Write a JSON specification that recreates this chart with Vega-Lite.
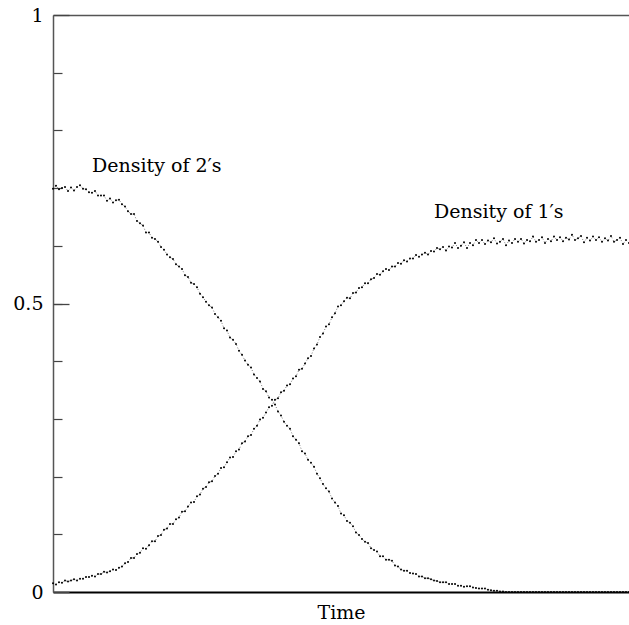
{
"$schema": "https://vega.github.io/schema/vega-lite/v6.json",
"width": 576, "height": 577,
"autosize": {"type": "none"},
"padding": {"left": 53, "top": 15, "right": 0, "bottom": 33},
"background": "white",
"config": {"view": {"stroke": null}, "font": "DejaVu Serif", "axis": {"grid": false}},
"resolve": {"axis": {"x": "independent", "y": "independent"}},
"data": {"values": [
{"t":0,"ones":0.015,"twos":0.699},{"t":1,"ones":0.013,"twos":0.704},{"t":2,"ones":0.017,"twos":0.698},{"t":3,"ones":0.016,"twos":0.700},{"t":4,"ones":0.020,"twos":0.702},{"t":5,"ones":0.018,"twos":0.695},{"t":6,"ones":0.020,"twos":0.701},{"t":7,"ones":0.022,"twos":0.696},{"t":8,"ones":0.020,"twos":0.702},{"t":9,"ones":0.023,"twos":0.705},
{"t":10,"ones":0.023,"twos":0.699},{"t":11,"ones":0.026,"twos":0.698},{"t":12,"ones":0.026,"twos":0.693},{"t":13,"ones":0.028,"twos":0.692},{"t":14,"ones":0.027,"twos":0.695},{"t":15,"ones":0.031,"twos":0.687},{"t":16,"ones":0.031,"twos":0.687},{"t":17,"ones":0.035,"twos":0.687},{"t":18,"ones":0.034,"twos":0.678},{"t":19,"ones":0.036,"twos":0.682},
{"t":20,"ones":0.039,"twos":0.675},{"t":21,"ones":0.038,"twos":0.679},{"t":22,"ones":0.042,"twos":0.680},{"t":23,"ones":0.044,"twos":0.672},{"t":24,"ones":0.050,"twos":0.668},{"t":25,"ones":0.052,"twos":0.660},{"t":26,"ones":0.059,"twos":0.655},{"t":27,"ones":0.059,"twos":0.655},{"t":28,"ones":0.066,"twos":0.643},{"t":29,"ones":0.068,"twos":0.639},
{"t":30,"ones":0.076,"twos":0.635},{"t":31,"ones":0.075,"twos":0.623},{"t":32,"ones":0.081,"twos":0.623},{"t":33,"ones":0.088,"twos":0.614},{"t":34,"ones":0.088,"twos":0.612},{"t":35,"ones":0.097,"twos":0.607},{"t":36,"ones":0.099,"twos":0.598},{"t":37,"ones":0.108,"twos":0.593},{"t":38,"ones":0.110,"twos":0.585},{"t":39,"ones":0.118,"twos":0.580},
{"t":40,"ones":0.118,"twos":0.577},{"t":41,"ones":0.126,"twos":0.568},{"t":42,"ones":0.129,"twos":0.564},{"t":43,"ones":0.139,"twos":0.560},{"t":44,"ones":0.140,"twos":0.549},{"t":45,"ones":0.148,"twos":0.546},{"t":46,"ones":0.155,"twos":0.536},{"t":47,"ones":0.156,"twos":0.534},{"t":48,"ones":0.166,"twos":0.528},{"t":49,"ones":0.169,"twos":0.517},
{"t":50,"ones":0.179,"twos":0.511},{"t":51,"ones":0.182,"twos":0.503},{"t":52,"ones":0.190,"twos":0.497},{"t":53,"ones":0.192,"twos":0.493},{"t":54,"ones":0.201,"twos":0.482},{"t":55,"ones":0.205,"twos":0.476},{"t":56,"ones":0.215,"twos":0.470},{"t":57,"ones":0.216,"twos":0.457},{"t":58,"ones":0.225,"twos":0.453},{"t":59,"ones":0.233,"twos":0.441},
{"t":60,"ones":0.234,"twos":0.437},{"t":61,"ones":0.244,"twos":0.430},{"t":62,"ones":0.247,"twos":0.418},{"t":63,"ones":0.258,"twos":0.411},{"t":64,"ones":0.261,"twos":0.401},{"t":65,"ones":0.270,"twos":0.394},{"t":66,"ones":0.272,"twos":0.389},{"t":67,"ones":0.283,"twos":0.377},{"t":68,"ones":0.288,"twos":0.371},{"t":69,"ones":0.299,"twos":0.365},
{"t":70,"ones":0.302,"twos":0.352},{"t":71,"ones":0.311,"twos":0.348},{"t":72,"ones":0.320,"twos":0.337},{"t":73,"ones":0.323,"twos":0.333},{"t":74,"ones":0.333,"twos":0.325},{"t":75,"ones":0.336,"twos":0.313},{"t":76,"ones":0.346,"twos":0.306},{"t":77,"ones":0.349,"twos":0.295},{"t":78,"ones":0.358,"twos":0.288},{"t":79,"ones":0.360,"twos":0.283},
{"t":80,"ones":0.370,"twos":0.270},{"t":81,"ones":0.374,"twos":0.264},{"t":82,"ones":0.385,"twos":0.258},{"t":83,"ones":0.387,"twos":0.244},{"t":84,"ones":0.396,"twos":0.240},{"t":85,"ones":0.405,"twos":0.229},{"t":86,"ones":0.409,"twos":0.224},{"t":87,"ones":0.422,"twos":0.217},{"t":88,"ones":0.429,"twos":0.205},{"t":89,"ones":0.442,"twos":0.197},
{"t":90,"ones":0.448,"twos":0.187},{"t":91,"ones":0.460,"twos":0.180},{"t":92,"ones":0.464,"twos":0.174},{"t":93,"ones":0.476,"twos":0.162},{"t":94,"ones":0.483,"twos":0.155},{"t":95,"ones":0.495,"twos":0.149},{"t":96,"ones":0.497,"twos":0.136},{"t":97,"ones":0.504,"twos":0.133},{"t":98,"ones":0.510,"twos":0.123},{"t":99,"ones":0.509,"twos":0.120},
{"t":100,"ones":0.518,"twos":0.114},{"t":101,"ones":0.519,"twos":0.103},{"t":102,"ones":0.527,"twos":0.099},{"t":103,"ones":0.528,"twos":0.092},{"t":104,"ones":0.535,"twos":0.087},{"t":105,"ones":0.535,"twos":0.085},{"t":106,"ones":0.542,"twos":0.076},{"t":107,"ones":0.544,"twos":0.073},{"t":108,"ones":0.551,"twos":0.070},{"t":109,"ones":0.550,"twos":0.062},
{"t":110,"ones":0.556,"twos":0.062},{"t":111,"ones":0.560,"twos":0.056},{"t":112,"ones":0.558,"twos":0.056},{"t":113,"ones":0.564,"twos":0.054},{"t":114,"ones":0.564,"twos":0.046},{"t":115,"ones":0.570,"twos":0.044},{"t":116,"ones":0.569,"twos":0.039},{"t":117,"ones":0.575,"twos":0.037},{"t":118,"ones":0.573,"twos":0.037},{"t":119,"ones":0.578,"twos":0.033},
{"t":120,"ones":0.578,"twos":0.032},{"t":121,"ones":0.584,"twos":0.031},{"t":122,"ones":0.581,"twos":0.027},{"t":123,"ones":0.585,"twos":0.027},{"t":124,"ones":0.588,"twos":0.024},{"t":125,"ones":0.585,"twos":0.024},{"t":126,"ones":0.591,"twos":0.022},{"t":127,"ones":0.590,"twos":0.020},{"t":128,"ones":0.596,"twos":0.019},{"t":129,"ones":0.594,"twos":0.017},
{"t":130,"ones":0.598,"twos":0.017},{"t":131,"ones":0.592,"twos":0.017},{"t":132,"ones":0.599,"twos":0.014},{"t":133,"ones":0.597,"twos":0.014},{"t":134,"ones":0.605,"twos":0.014},{"t":135,"ones":0.596,"twos":0.011},{"t":136,"ones":0.600,"twos":0.011},{"t":137,"ones":0.606,"twos":0.009},{"t":138,"ones":0.596,"twos":0.010},{"t":139,"ones":0.605,"twos":0.010},
{"t":140,"ones":0.601,"twos":0.008},{"t":141,"ones":0.610,"twos":0.007},{"t":142,"ones":0.605,"twos":0.006},{"t":143,"ones":0.610,"twos":0.006},{"t":144,"ones":0.603,"twos":0.006},{"t":145,"ones":0.609,"twos":0.004},{"t":146,"ones":0.606,"twos":0.003},{"t":147,"ones":0.613,"twos":0.002},{"t":148,"ones":0.604,"twos":0.002},{"t":149,"ones":0.607,"twos":0.001},
{"t":150,"ones":0.612,"twos":0.001},{"t":151,"ones":0.601,"twos":0},{"t":152,"ones":0.609,"twos":0},{"t":153,"ones":0.605,"twos":0},{"t":154,"ones":0.612,"twos":0},{"t":155,"ones":0.607,"twos":0},{"t":156,"ones":0.612,"twos":0},{"t":157,"ones":0.604,"twos":0},{"t":158,"ones":0.610,"twos":0},{"t":159,"ones":0.608,"twos":0},
{"t":160,"ones":0.616,"twos":0},{"t":161,"ones":0.607,"twos":0},{"t":162,"ones":0.610,"twos":0},{"t":163,"ones":0.615,"twos":0},{"t":164,"ones":0.605,"twos":0},{"t":165,"ones":0.612,"twos":0},{"t":166,"ones":0.608,"twos":0},{"t":167,"ones":0.616,"twos":0},{"t":168,"ones":0.610,"twos":0},{"t":169,"ones":0.615,"twos":0},
{"t":170,"ones":0.608,"twos":0},{"t":171,"ones":0.614,"twos":0},{"t":172,"ones":0.611,"twos":0},{"t":173,"ones":0.619,"twos":0},{"t":174,"ones":0.610,"twos":0},{"t":175,"ones":0.613,"twos":0},{"t":176,"ones":0.617,"twos":0},{"t":177,"ones":0.606,"twos":0},{"t":178,"ones":0.614,"twos":0},{"t":179,"ones":0.609,"twos":0},
{"t":180,"ones":0.616,"twos":0},{"t":181,"ones":0.610,"twos":0},{"t":182,"ones":0.615,"twos":0},{"t":183,"ones":0.607,"twos":0},{"t":184,"ones":0.613,"twos":0},{"t":185,"ones":0.609,"twos":0},{"t":186,"ones":0.617,"twos":0},{"t":187,"ones":0.607,"twos":0},{"t":188,"ones":0.610,"twos":0},{"t":189,"ones":0.614,"twos":0},
{"t":190,"ones":0.603,"twos":0},{"t":191,"ones":0.610,"twos":0},{"t":192,"ones":0.605,"twos":0}
]},
"layer": [
{
"transform": [{"fold": ["ones", "twos"], "as": ["series", "density"]}],
"mark": {"type": "line", "color": "#333", "strokeWidth": 0.8, "strokeDash": [1, 2], "opacity": 0.8},
"encoding": {
"x": {"field": "t", "type": "quantitative", "scale": {"domain": [0, 192], "nice": false, "zero": false},
"axis": {"orient": "bottom", "title": "Time", "titleFont": "DejaVu Serif", "titleFontSize": 19, "titleFontWeight": "normal", "titleColor": "black", "titlePadding": 11, "labels": false, "ticks": false, "domainColor": "black", "domainWidth": 2}},
"y": {"field": "density", "type": "quantitative", "scale": {"domain": [0, 1], "nice": false},
"axis": {"orient": "left", "title": null, "values": [0.1, 0.2, 0.3, 0.4, 0.5, 0.6, 0.7, 0.8, 0.9], "tickSize": -9, "tickColor": "#444", "tickWidth": 1.2, "labels": false, "domainColor": "#555", "domainWidth": 1.5}},
"detail": {"field": "series"}
}
},
{
"transform": [{"fold": ["ones", "twos"], "as": ["series", "density"]}],
"mark": {"type": "point", "filled": true, "size": 4, "color": "black", "opacity": 1},
"encoding": {
"x": {"field": "t", "type": "quantitative",
"axis": {"orient": "top", "title": null, "labels": false, "ticks": false, "domainColor": "#555", "domainWidth": 1.5}},
"y": {"field": "density", "type": "quantitative", "axis": null},
"detail": {"field": "series"}
}
},
{
"data": {"values": [{"t": 13, "v": 0.728, "label": "Density of 2′s"}, {"t": 127, "v": 0.648, "label": "Density of 1′s"}]},
"mark": {"type": "text", "align": "left", "baseline": "alphabetic", "font": "DejaVu Serif", "fontSize": 19, "color": "black"},
"encoding": {
"x": {"field": "t", "type": "quantitative", "axis": null},
"y": {"field": "v", "type": "quantitative",
"axis": {"orient": "left", "title": null, "values": [0, 0.5, 1], "format": ".1~f", "ticks": true, "tickSize": -16, "tickColor": "#444", "tickWidth": 1.3, "domain": false, "labelPadding": 26, "labelFont": "DejaVu Serif", "labelFontSize": 19, "labelColor": "black"}},
"text": {"field": "label"}
}
}
]
}
